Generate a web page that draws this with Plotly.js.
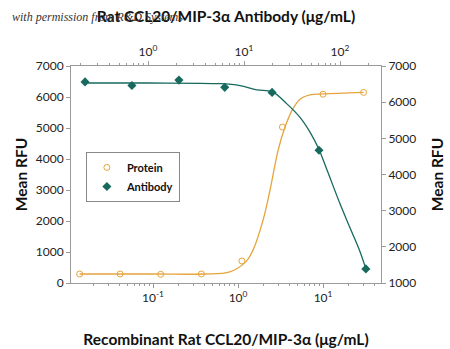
<!DOCTYPE html>
<html>
<head>
<meta charset="utf-8">
<script src="https://cdn.plot.ly/plotly-3.0.1.min.js"></script>
<style>html,body{margin:0;padding:0;background:#fff;}#chart{width:450px;height:349px;}</style>
</head>
<body>
<div id="chart"></div>
<script>
// Recombinant protein (bottom axis, left y)
const proteinConc = [0.0137, 0.041, 0.123, 0.37, 1.11, 3.33, 10, 30];
const proteinRFU  = [290, 290, 280, 290, 710, 5030, 6090, 6150];
// fitted curve (protein)
const proteinFitX = [0.0137, 0.1, 0.4, 0.8, 1.24, 1.5, 1.97, 2.38, 2.96, 3.57, 4.32, 5.36, 7.03, 10, 30];
const proteinFitY = [290, 290, 290, 360, 690, 1060, 2030, 3000, 4280, 5030, 5570, 5930, 6070, 6100, 6150];

// Antibody (top axis, right y)
const antibodyConc = [0.221, 0.68, 2.1, 6.3, 19.6, 60.4, 186];
const antibodyRFU  = [6560, 6460, 6610, 6410, 6270, 4670, 1390];
// fitted curve (antibody)
const antibodyFitX = [0.221, 1, 5.62, 9.08, 13.6, 19.6, 27.8, 38.3, 48.7, 60.4, 72.6, 100, 127, 161, 186];
const antibodyFitY = [6530, 6530, 6510, 6460, 6340, 6290, 5960, 5580, 5170, 4690, 4150, 3190, 2530, 1880, 1390];

const bottomTicks = [0.1, 1, 10];
const bottomTickText = ['10<sup>-1</sup>', '10<sup>0</sup>', '10<sup>1</sup>'];
const topTicks = [1, 10, 100];
const topTickText = ['10<sup>0</sup>', '10<sup>1</sup>', '10<sup>2</sup>'];
const leftTicks = [0, 1000, 2000, 3000, 4000, 5000, 6000, 7000];
const rightTicks = [1000, 2000, 3000, 4000, 5000, 6000, 7000];

const orange = '#E5A43C';
const teal = '#17695E';
const axisGray = '#9a9a9a';
const FONT = 'Lato, "Noto Sans", sans-serif';

function minorVals(lo, hi) {
  const v = [];
  for (let e = lo; e <= hi; e++) for (let d = 2; d <= 9; d++) v.push(d * Math.pow(10, e));
  return v;
}

const traces = [
  {x: proteinFitX, y: proteinFitY, xaxis: 'x', yaxis: 'y', mode: 'lines',
   line: {color: orange, width: 1.3, shape: 'spline', smoothing: 1}, showlegend: false, hoverinfo: 'skip'},
  {x: antibodyFitX, y: antibodyFitY, xaxis: 'x2', yaxis: 'y2', mode: 'lines',
   line: {color: teal, width: 1.3, shape: 'spline', smoothing: 1}, showlegend: false, hoverinfo: 'skip'},
  {x: proteinConc, y: proteinRFU, xaxis: 'x', yaxis: 'y', mode: 'markers', name: 'Protein',
   marker: {symbol: 'circle-open', size: 6, color: orange, line: {width: 1}}},
  {x: antibodyConc, y: antibodyRFU, xaxis: 'x2', yaxis: 'y2', mode: 'markers', name: 'Antibody',
   marker: {symbol: 'diamond', size: 7, color: teal}}
];

const axisCommon = {
  showline: true, linecolor: axisGray, linewidth: 1, showgrid: false, zeroline: false,
  ticks: 'outside', ticklen: 4, tickcolor: axisGray, tickwidth: 1,
  tickfont: {family: FONT, size: 12, color: '#222'}
};
const titleFont = {family: FONT, size: 15.5, color: '#111', weight: 'bold'};

const layout = {
  width: 450, height: 349,
  margin: {l: 71, r: 69, t: 66, b: 66, pad: 0},
  paper_bgcolor: '#fff', plot_bgcolor: '#fff',
  font: {family: FONT, color: '#222'},
  showlegend: true,
  legend: {x: 0.048, y: 0.604, xanchor: 'left', yanchor: 'top', bgcolor: '#fff',
           bordercolor: '#888', borderwidth: 1, font: {family: FONT, size: 11, color: '#111', weight: 'bold'},
           itemwidth: 30, tracegroupgap: 0},
  xaxis: Object.assign({}, axisCommon, {
    type: 'log', range: [-1.965, 1.682], anchor: 'y', side: 'bottom',
    tickmode: 'array', tickvals: bottomTicks, ticktext: bottomTickText,
    minor: {tickmode: 'array', tickvals: minorVals(-2, 1), ticks: 'outside', ticklen: 2, tickcolor: axisGray, showgrid: false},
    title: {text: 'Recombinant Rat CCL20/MIP-3α (μg/mL)', standoff: 29, font: titleFont}
  }),
  xaxis2: Object.assign({}, axisCommon, {
    type: 'log', range: [-0.802, 2.427], anchor: 'y', side: 'top', overlaying: 'x',
    tickmode: 'array', tickvals: topTicks, ticktext: topTickText,
    minor: {tickmode: 'array', tickvals: minorVals(-1, 2), ticks: 'outside', ticklen: 2, tickcolor: axisGray, showgrid: false},
    title: {text: 'Rat CCL20/MIP-3α Antibody (μg/mL)', standoff: 16, font: titleFont}
  }),
  yaxis: Object.assign({}, axisCommon, {
    range: [0, 7000], anchor: 'x', side: 'left',
    tickmode: 'array', tickvals: leftTicks,
    title: {text: 'Mean RFU', standoff: 4, font: titleFont}
  }),
  yaxis2: Object.assign({}, axisCommon, {
    range: [1000, 7000], anchor: 'x', side: 'right', overlaying: 'y',
    tickmode: 'array', tickvals: rightTicks,
    title: {text: 'Mean RFU', standoff: 16, font: titleFont}
  }),
  annotations: [{
    text: 'with permission from R&D Systems', xref: 'paper', yref: 'paper',
    x: -0.197, y: 1.226, xanchor: 'left', yanchor: 'middle', showarrow: false,
    font: {family: '"Liberation Serif", "DejaVu Serif", serif', size: 12, color: '#333', style: 'italic'}
  }]
};

Plotly.newPlot('chart', traces, layout, {displayModeBar: false, staticPlot: true});
</script>
</body>
</html>
